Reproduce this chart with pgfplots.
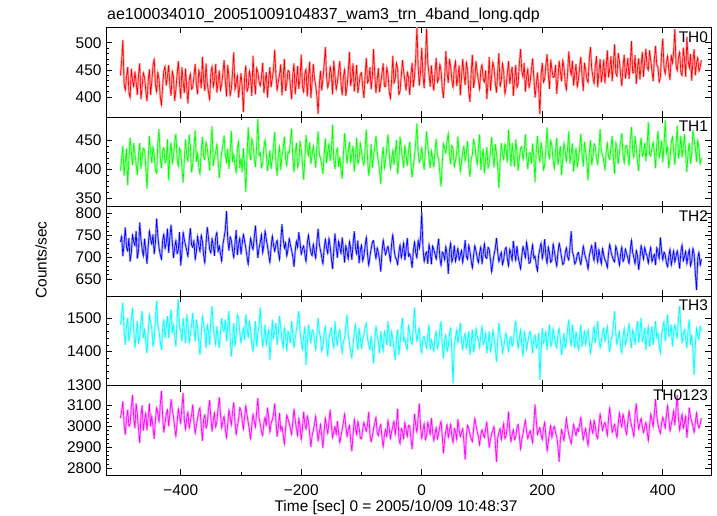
\documentclass[border=0pt]{standalone}
\usepackage{fontspec}
\setmainfont{Liberation Sans}
\usepackage{pgfplots}
\pgfplotsset{compat=1.18}
\usepackage{pgfplotstable}

\pgfplotstableread[row sep=\\]{y\\
440\\468\\505\\425\\412\\437\\455\\410\\398\\452\\431\\419\\447\\427\\404\\441\\462\\396\\419\\445\\
436\\412\\392\\430\\451\\404\\428\\458\\470\\423\\409\\446\\433\\401\\385\\420\\448\\457\\421\\438\\
459\\421\\402\\448\\437\\393\\414\\441\\466\\426\\397\\455\\429\\407\\452\\418\\388\\431\\443\\414\\
418\\439\\461\\422\\405\\450\\438\\416\\474\\433\\411\\462\\426\\409\\395\\443\\457\\418\\432\\461\\
408\\427\\449\\412\\423\\445\\468\\430\\401\\459\\437\\402\\415\\446\\482\\413\\426\\440\\399\\420\\
444\\419\\372\\436\\458\\410\\417\\448\\435\\402\\476\\431\\405\\454\\446\\428\\420\\437\\463\\407\\
428\\446\\399\\431\\455\\418\\434\\452\\487\\440\\412\\429\\441\\460\\403\\435\\470\\411\\425\\449\\
447\\420\\396\\441\\462\\405\\430\\457\\415\\433\\478\\419\\409\\443\\452\\401\\437\\465\\398\\427\\
461\\434\\421\\401\\369\\423\\448\\412\\433\\459\\492\\438\\417\\429\\456\\442\\405\\467\\440\\413\\
427\\448\\466\\425\\403\\437\\451\\402\\419\\446\\483\\420\\436\\462\\410\\433\\459\\407\\424\\441\\
445\\418\\398\\439\\472\\426\\431\\455\\414\\437\\488\\442\\407\\431\\453\\409\\426\\444\\462\\420\\
419\\455\\441\\410\\397\\432\\476\\425\\435\\463\\452\\404\\411\\439\\468\\447\\429\\412\\446\\436\\
404\\441\\463\\418\\438\\472\\530\\455\\421\\447\\491\\439\\416\\468\\526\\462\\443\\419\\458\\430\\
412\\446\\472\\427\\433\\461\\449\\416\\398\\437\\485\\444\\426\\470\\455\\431\\417\\453\\466\\420\\
437\\458\\403\\436\\470\\441\\422\\464\\451\\410\\391\\445\\478\\417\\432\\466\\445\\430\\414\\449\\
460\\433\\427\\449\\396\\428\\474\\412\\439\\465\\453\\426\\408\\446\\481\\419\\430\\462\\447\\405\\
419\\443\\466\\424\\441\\456\\402\\431\\459\\417\\425\\462\\488\\448\\436\\463\\410\\437\\452\\417\\
428\\452\\471\\437\\399\\421\\445\\415\\368\\440\\463\\427\\433\\459\\479\\442\\415\\469\\450\\436\\
438\\459\\406\\434\\467\\447\\429\\468\\455\\426\\413\\444\\484\\453\\440\\467\\421\\443\\461\\418\\
432\\455\\474\\439\\411\\463\\449\\433\\426\\471\\492\\452\\437\\424\\458\\475\\418\\446\\470\\427\\
444\\469\\425\\455\\486\\436\\452\\475\\429\\461\\497\\444\\438\\481\\466\\441\\420\\457\\478\\434\\
451\\472\\433\\461\\503\\444\\446\\477\\424\\453\\471\\432\\458\\483\\437\\466\\489\\455\\449\\486\\
467\\448\\429\\470\\494\\459\\455\\427\\436\\481\\508\\455\\442\\463\\476\\449\\431\\478\\462\\484\\
525\\459\\448\\472\\483\\445\\439\\491\\470\\437\\511\\468\\453\\479\\430\\466\\488\\440\\462\\473\\
447\\455\\468\\
}\thzero

\pgfplotstableread[row sep=\\]{y\\
398\\420\\441\\389\\412\\436\\372\\417\\455\\431\\408\\446\\427\\409\\390\\428\\446\\401\\419\\437\\
434\\405\\366\\418\\458\\429\\411\\440\\425\\398\\393\\446\\470\\421\\402\\432\\438\\411\\416\\452\\
381\\426\\447\\410\\423\\448\\462\\419\\405\\437\\431\\402\\377\\418\\452\\425\\414\\461\\440\\395\\
409\\439\\468\\413\\428\\404\\391\\433\\456\\422\\417\\448\\436\\419\\398\\444\\475\\406\\421\\430\\
444\\417\\385\\408\\430\\442\\459\\425\\412\\436\\401\\429\\467\\413\\426\\407\\394\\437\\449\\402\\
420\\395\\437\\407\\361\\422\\473\\431\\416\\454\\443\\419\\404\\441\\488\\424\\429\\403\\411\\438\\
452\\426\\397\\415\\433\\401\\418\\441\\465\\412\\389\\427\\440\\399\\423\\437\\457\\419\\406\\431\\
428\\448\\471\\420\\395\\429\\446\\403\\413\\449\\435\\410\\382\\418\\460\\436\\424\\447\\409\\425\\
441\\422\\403\\438\\466\\427\\419\\408\\392\\426\\454\\411\\430\\445\\415\\432\\478\\417\\400\\429\\
437\\404\\421\\399\\384\\427\\463\\435\\410\\431\\448\\412\\426\\441\\396\\423\\455\\409\\418\\446\\
432\\415\\407\\436\\469\\418\\389\\411\\444\\403\\422\\440\\458\\430\\413\\396\\375\\421\\439\\402\\
416\\439\\461\\428\\401\\417\\434\\408\\427\\451\\392\\414\\457\\436\\419\\403\\442\\425\\406\\432\\
448\\411\\386\\406\\425\\447\\480\\429\\412\\420\\438\\415\\399\\434\\466\\441\\421\\402\\433\\418\\
404\\432\\453\\424\\418\\395\\370\\410\\445\\436\\428\\449\\463\\427\\409\\442\\436\\404\\415\\430\\
457\\421\\396\\413\\431\\441\\414\\428\\449\\406\\387\\418\\426\\452\\443\\423\\408\\437\\461\\399\\
420\\436\\393\\418\\439\\402\\411\\430\\456\\425\\403\\444\\428\\405\\367\\413\\446\\427\\417\\444\\
434\\412\\469\\437\\405\\446\\424\\405\\452\\429\\398\\418\\437\\440\\416\\431\\461\\422\\400\\428\\
429\\410\\445\\421\\378\\434\\458\\426\\413\\447\\432\\399\\407\\436\\473\\429\\419\\451\\440\\415\\
401\\433\\455\\408\\423\\441\\390\\419\\447\\431\\414\\437\\466\\410\\427\\445\\396\\420\\438\\404\\
418\\437\\462\\426\\405\\448\\433\\414\\381\\428\\451\\407\\422\\445\\440\\419\\409\\433\\470\\431\\
425\\414\\399\\430\\446\\422\\417\\439\\458\\420\\392\\447\\436\\409\\428\\448\\463\\426\\411\\440\\
442\\425\\406\\449\\474\\432\\420\\458\\437\\414\\397\\438\\455\\423\\429\\446\\414\\441\\482\\427\\
423\\436\\448\\429\\402\\444\\467\\420\\431\\450\\412\\441\\485\\428\\439\\402\\418\\447\\457\\432\\
408\\444\\476\\419\\433\\458\\421\\439\\461\\426\\395\\431\\446\\410\\427\\468\\452\\437\\413\\451\\
438\\409\\420\\
}\thone

\pgfplotstableread[row sep=\\]{y\\
735\\748\\702\\731\\768\\722\\714\\744\\690\\709\\751\\736\\726\\760\\697\\715\\779\\741\\718\\702\\
742\\716\\685\\724\\760\\741\\729\\752\\707\\733\\788\\749\\721\\706\\695\\738\\753\\719\\733\\765\\
710\\745\\774\\735\\698\\722\\739\\708\\716\\757\\681\\711\\757\\740\\727\\715\\701\\738\\766\\728\\
722\\738\\694\\713\\748\\727\\712\\751\\736\\705\\686\\731\\769\\745\\718\\709\\743\\726\\703\\746\\
757\\712\\726\\708\\690\\729\\745\\763\\805\\741\\715\\747\\738\\716\\699\\731\\762\\705\\728\\744\\
706\\731\\752\\737\\721\\702\\683\\719\\744\\726\\717\\745\\772\\733\\698\\721\\734\\752\\709\\728\\
761\\741\\725\\706\\687\\723\\749\\728\\713\\730\\739\\712\\694\\736\\775\\742\\720\\733\\702\\718\\
743\\728\\716\\701\\678\\715\\737\\722\\757\\734\\706\\719\\726\\707\\689\\732\\751\\726\\711\\703\\
730\\712\\697\\735\\765\\729\\715\\700\\684\\719\\741\\722\\708\\744\\725\\697\\673\\716\\754\\723\\
699\\737\\722\\708\\745\\716\\688\\727\\713\\695\\736\\719\\694\\730\\759\\721\\707\\738\\686\\715\\
728\\691\\703\\726\\746\\707\\681\\702\\719\\734\\738\\714\\696\\722\\711\\693\\667\\711\\740\\719\\
705\\717\\725\\708\\690\\731\\752\\719\\700\\695\\683\\711\\729\\698\\714\\733\\693\\718\\744\\702\\
708\\697\\676\\715\\735\\711\\698\\739\\720\\746\\802\\721\\689\\706\\712\\685\\730\\712\\684\\726\\
717\\707\\695\\721\\742\\699\\680\\712\\708\\693\\725\\706\\662\\716\\733\\688\\701\\727\\690\\705\\
721\\693\\704\\716\\687\\710\\739\\702\\695\\728\\713\\692\\675\\704\\727\\714\\699\\687\\710\\724\\
684\\709\\731\\700\\697\\723\\718\\695\\666\\688\\706\\720\\744\\712\\689\\701\\712\\683\\694\\717\\
723\\697\\680\\719\\708\\692\\737\\711\\692\\726\\701\\687\\673\\703\\725\\713\\698\\735\\715\\686\\
688\\711\\729\\697\\703\\682\\668\\705\\719\\733\\696\\714\\741\\702\\685\\724\\709\\688\\693\\731\\
714\\695\\679\\710\\732\\718\\700\\683\\687\\709\\722\\701\\693\\725\\759\\712\\703\\684\\690\\706\\
711\\694\\683\\702\\726\\710\\698\\689\\672\\703\\716\\727\\705\\691\\734\\709\\688\\718\\700\\684\\
720\\705\\694\\688\\676\\709\\730\\713\\702\\694\\689\\726\\715\\699\\681\\707\\724\\690\\697\\719\\
708\\698\\685\\716\\739\\711\\699\\684\\716\\704\\671\\696\\727\\712\\695\\723\\710\\702\\686\\709\\
723\\689\\700\\707\\682\\722\\712\\696\\745\\715\\693\\712\\706\\687\\678\\703\\719\\681\\698\\715\\
688\\703\\715\\696\\674\\712\\729\\691\\701\\714\\684\\705\\718\\680\\692\\721\\707\\664\\625\\698\\
712\\681\\696\\
}\thtwo

\pgfplotstableread[row sep=\\]{y\\
1480\\1510\\1545\\1460\\1420\\1475\\1500\\1430\\1455\\1495\\1530\\1465\\1410\\1450\\1490\\1425\\1445\\1490\\1520\\1440\\
1465\\1430\\1395\\1455\\1510\\1485\\1470\\1415\\1435\\1500\\1550\\1480\\1460\\1430\\1405\\1470\\1495\\1440\\1475\\1505\\
1440\\1490\\1525\\1455\\1480\\1445\\1415\\1500\\1555\\1475\\1460\\1430\\1500\\1465\\1425\\1510\\1485\\1425\\1450\\1480\\
1515\\1465\\1430\\1495\\1470\\1425\\1390\\1450\\1505\\1480\\1455\\1410\\1480\\1460\\1420\\1500\\1535\\1470\\1445\\1420\\
1475\\1440\\1410\\1455\\1500\\1465\\1460\\1495\\1430\\1475\\1520\\1440\\1385\\1430\\1485\\1415\\1450\\1510\\1495\\1460\\
1425\\1450\\1470\\1435\\1510\\1470\\1440\\1490\\1465\\1420\\1400\\1445\\1490\\1415\\1455\\1475\\1530\\1460\\1415\\1440\\
1480\\1420\\1445\\1465\\1375\\1430\\1495\\1440\\1460\\1485\\1420\\1455\\1505\\1470\\1435\\1410\\1470\\1445\\1400\\1460\\
1450\\1425\\1490\\1455\\1410\\1440\\1465\\1490\\1520\\1460\\1430\\1405\\1445\\1475\\1360\\1420\\1480\\1450\\1425\\1465\\
1460\\1430\\1405\\1450\\1500\\1460\\1440\\1400\\1415\\1455\\1475\\1420\\1385\\1440\\1455\\1470\\1430\\1410\\1490\\1445\\
1420\\1450\\1465\\1425\\1395\\1430\\1440\\1475\\1510\\1445\\1425\\1400\\1380\\1420\\1455\\1480\\1435\\1405\\1470\\1440\\
1410\\1435\\1450\\1470\\1485\\1440\\1420\\1405\\1445\\1415\\1365\\1430\\1475\\1450\\1430\\1395\\1460\\1425\\1400\\1460\\
1445\\1420\\1490\\1450\\1415\\1460\\1435\\1405\\1375\\1440\\1465\\1390\\1425\\1470\\1500\\1430\\1440\\1415\\1405\\1480\\
1455\\1430\\1420\\1475\\1530\\1460\\1430\\1455\\1470\\1415\\1395\\1440\\1445\\1425\\1410\\1450\\1480\\1405\\1435\\1420\\
1400\\1445\\1460\\1410\\1425\\1465\\1490\\1420\\1380\\1435\\1450\\1400\\1415\\1455\\1470\\1395\\1305\\1420\\1440\\1465\\
1425\\1450\\1485\\1430\\1405\\1440\\1455\\1410\\1430\\1460\\1390\\1425\\1465\\1400\\1420\\1470\\1445\\1435\\1410\\1450\\
1475\\1420\\1430\\1455\\1395\\1425\\1460\\1400\\1420\\1465\\1440\\1410\\1370\\1430\\1485\\1450\\1435\\1395\\1415\\1440\\
1455\\1425\\1400\\1435\\1445\\1415\\1425\\1470\\1490\\1445\\1410\\1440\\1465\\1420\\1385\\1460\\1440\\1405\\1430\\1450\\
1460\\1430\\1395\\1440\\1450\\1410\\1420\\1455\\1315\\1400\\1470\\1425\\1435\\1460\\1405\\1445\\1480\\1415\\1425\\1470\\
1445\\1425\\1410\\1450\\1470\\1435\\1390\\1420\\1455\\1410\\1430\\1465\\1495\\1440\\1415\\1480\\1440\\1410\\1460\\1430\\
1405\\1445\\1480\\1415\\1435\\1460\\1420\\1450\\1465\\1430\\1395\\1420\\1450\\1475\\1425\\1455\\1490\\1440\\1410\\1430\\
1455\\1470\\1430\\1450\\1475\\1425\\1400\\1435\\1445\\1480\\1520\\1455\\1420\\1440\\1460\\1415\\1395\\1445\\1470\\1420\\
1435\\1455\\1485\\1440\\1410\\1465\\1450\\1420\\1465\\1490\\1425\\1460\\1500\\1430\\1440\\1470\\1405\\1450\\1475\\1415\\
1445\\1475\\1420\\1460\\1490\\1440\\1455\\1420\\1395\\1450\\1470\\1490\\1430\\1465\\1510\\1445\\1450\\1480\\1415\\1460\\
1480\\1455\\1440\\1500\\1535\\1470\\1425\\1450\\1465\\1440\\1410\\1465\\1495\\1420\\1450\\1405\\1330\\1420\\1470\\1445\\
1435\\1475\\1460\\
}\ththree

\pgfplotstableread[row sep=\\]{y\\
3040\\3075\\3120\\3010\\2960\\3035\\3080\\3000\\3010\\3090\\3150\\3040\\2990\\3110\\3060\\2985\\2920\\3050\\3100\\2980\\
3030\\3065\\2980\\3045\\3110\\3000\\3050\\2995\\2940\\3030\\3090\\3060\\3020\\3100\\3170\\3050\\2970\\3015\\3060\\3080\\
3000\\3060\\3130\\3080\\3045\\2995\\2950\\3020\\3085\\3050\\3015\\3095\\3160\\3030\\2985\\3040\\3070\\2990\\3025\\3055\\
3105\\3020\\2965\\3005\\3040\\3070\\3090\\3000\\2930\\3035\\3055\\2990\\3010\\3080\\3125\\3040\\2975\\3030\\3065\\2995\\
3020\\3085\\3140\\3060\\2990\\3025\\3050\\2985\\2945\\3010\\3080\\3045\\3005\\3070\\3115\\3020\\2960\\3000\\3035\\3090\\
3075\\3030\\2985\\3045\\3100\\3055\\3020\\2980\\2940\\3005\\3060\\3025\\2995\\3070\\3135\\3045\\3010\\2975\\2955\\3015\\
3045\\3000\\3090\\3040\\2970\\3015\\3030\\3060\\3110\\3025\\2950\\3000\\3065\\2980\\3000\\2960\\2915\\2990\\3055\\3035\\
3015\\2990\\2960\\3020\\3085\\3030\\2990\\2955\\3040\\3000\\2935\\2985\\3070\\3010\\2985\\3050\\3025\\2965\\2900\\2955\\
2980\\3010\\3050\\2985\\2930\\2970\\3010\\2955\\2895\\2975\\3040\\3000\\2965\\3020\\3080\\3005\\2945\\2975\\3000\\2960\\
3025\\2970\\2920\\2955\\2985\\3020\\3060\\3000\\2950\\2985\\3005\\2935\\2880\\2960\\3035\\2990\\2960\\3025\\2995\\2945\\
2940\\2985\\3020\\2995\\2975\\3010\\3070\\2960\\2925\\2950\\2990\\3015\\3045\\2970\\2955\\2990\\3010\\2945\\2900\\2960\\
2985\\2950\\3030\\2990\\2940\\2975\\3000\\3025\\2960\\3010\\3085\\2945\\2915\\2990\\2975\\2940\\3020\\2985\\2950\\3005\\
3000\\2945\\2890\\2975\\3060\\3005\\2970\\3040\\3110\\2995\\2940\\2980\\3015\\2935\\2955\\3020\\2990\\2960\\3040\\2975\\
2930\\2965\\2995\\2940\\2965\\3000\\3025\\2955\\2870\\2935\\2980\\3010\\2945\\2980\\3010\\2950\\2920\\2990\\2975\\2935\\
3035\\2985\\2950\\2970\\2990\\2925\\2840\\2955\\3005\\2990\\2960\\2940\\2925\\2985\\3040\\3005\\2975\\2950\\2910\\2960\\
2985\\2960\\2945\\2990\\3020\\2955\\2900\\2935\\2965\\2980\\3000\\2920\\2830\\2945\\2970\\2990\\2935\\2975\\3015\\2940\\
2955\\3000\\3070\\2980\\2925\\2960\\2985\\2935\\2950\\2995\\3010\\2950\\2890\\2935\\2965\\3000\\3030\\2975\\2940\\2965\\
2980\\2950\\2920\\3010\\3105\\3030\\2960\\2980\\2995\\2960\\2935\\2990\\3020\\2955\\2880\\2925\\2970\\3005\\2945\\2985\\
3000\\2970\\2950\\2905\\2830\\2935\\2985\\2960\\2930\\2985\\3040\\2995\\2960\\2940\\2915\\2965\\3010\\2980\\2955\\2990\\
2975\\3010\\3045\\2985\\2935\\2965\\2990\\2945\\2905\\2970\\3025\\2990\\2965\\3030\\3000\\2955\\2940\\3005\\3060\\3020\\
2980\\3005\\3020\\2990\\2955\\3040\\3090\\3025\\2970\\2990\\3010\\2975\\2945\\3010\\3065\\3020\\2995\\3060\\3030\\2985\\
2960\\3020\\3075\\3035\\3005\\2980\\2950\\3055\\3110\\3030\\2985\\3015\\3040\\3000\\2970\\2995\\3020\\2975\\2930\\3000\\
3060\\3030\\2995\\3065\\3130\\3050\\3010\\2985\\2965\\3015\\3045\\3020\\2990\\3055\\3100\\3040\\2975\\3010\\3035\\3075\\
3005\\3080\\3150\\3040\\2980\\3025\\3060\\2990\\3015\\3050\\2945\\3010\\3090\\3045\\3025\\3000\\2970\\3020\\3065\\3015\\
2990\\3010\\3040\\
}\thall

\newcommand{\lblfont}{\fontsize{15.5}{18}\selectfont}

\pgfplotsset{
  panel/.style={
    scale only axis, width=605bp, height=89.6bp,
    xmin=-524, xmax=480,
    xtick={-400,-200,0,200,400}, minor x tick num=1,
    xticklabels={},
    tick align=inside, tick pos=both,
    major tick length=6bp, minor tick length=3bp,
    every tick/.style={black, line width=0.6bp},
    axis line style={black, line width=0.8bp},
    ticklabel style={font=\lblfont},
    yticklabel pos=left,
    /pgf/number format/assume math mode=true,
    /pgf/number format/1000 sep={},
    yticklabel style={xshift=-1bp},
    anchor=north west,
  },
  ser/.style={line width=0.65bp, mark=none, line join=miter},
  halo/.style={line width=2.2bp, mark=none, line join=bevel, #1!35},
}

\definecolor{cgreen}{RGB}{0,255,0}
\definecolor{ccyan}{RGB}{0,255,255}
\definecolor{cmag}{RGB}{255,0,255}

\begin{document}
\begin{tikzpicture}
\useasboundingbox (0,0) rectangle (717bp,516bp);

\begin{axis}[panel, at={(106bp,488.5bp)}, ymin=363, ymax=528,
  ytick={400,450,500}, minor y tick num=4]
\addplot[halo=red] table[x expr=\coordindex*2-500, y=y]{\thzero};
\addplot[ser, red] table[x expr=\coordindex*2-500, y=y]{\thzero};
\node[anchor=north east, font=\lblfont, inner sep=1bp] at (rel axis cs:0.997,0.97) {TH0};
\end{axis}

\begin{axis}[panel, at={(106bp,398.9bp)}, ymin=335, ymax=491,
  ytick={350,400,450}, minor y tick num=4]
\addplot[halo=cgreen] table[x expr=\coordindex*2-500, y=y]{\thone};
\addplot[ser, cgreen] table[x expr=\coordindex*2-500, y=y]{\thone};
\node[anchor=north east, font=\lblfont, inner sep=1bp] at (rel axis cs:0.997,0.97) {TH1};
\end{axis}

\begin{axis}[panel, at={(106bp,309.3bp)}, ymin=611, ymax=815,
  ytick={650,700,750,800}, minor y tick num=4]
\addplot[halo=blue] table[x expr=\coordindex*2-500, y=y]{\thtwo};
\addplot[ser, blue] table[x expr=\coordindex*2-500, y=y]{\thtwo};
\node[anchor=north east, font=\lblfont, inner sep=1bp] at (rel axis cs:0.997,0.97) {TH2};
\end{axis}

\begin{axis}[panel, at={(106bp,219.7bp)}, ymin=1298, ymax=1564,
  ytick={1300,1400,1500}, minor y tick num=4]
\addplot[halo=ccyan] table[x expr=\coordindex*2-500, y=y]{\ththree};
\addplot[ser, ccyan] table[x expr=\coordindex*2-500, y=y]{\ththree};
\node[anchor=north east, font=\lblfont, inner sep=1bp] at (rel axis cs:0.997,0.97) {TH3};
\end{axis}

\begin{axis}[panel, at={(106bp,130.1bp)}, ymin=2764, ymax=3194,
  ytick={2800,2900,3000,3100}, minor y tick num=4,
  xticklabels={−400,−200,0,200,400}, xticklabel pos=lower,
  xticklabel style={yshift=-6bp}]
\addplot[halo=cmag] table[x expr=\coordindex*2-500, y=y]{\thall};
\addplot[ser, cmag] table[x expr=\coordindex*2-500, y=y]{\thall};
\node[anchor=north east, font=\lblfont, inner sep=1bp] at (rel axis cs:0.997,0.97) {TH0123};
\end{axis}

\node[anchor=base, font=\lblfont, inner sep=0pt] at (396bp,4.5bp) {Time [sec] 0 = 2005/10/09 10:48:37};
\node[anchor=base west, font=\fontsize{16}{18}\selectfont, inner sep=0pt] at (107bp,496bp) {ae100034010\_20051009104837\_wam3\_trn\_4band\_long.qdp};
\node[rotate=90, font=\lblfont, inner sep=0pt] at (41bp,256bp) {Counts/sec};
\end{tikzpicture}
\end{document}
